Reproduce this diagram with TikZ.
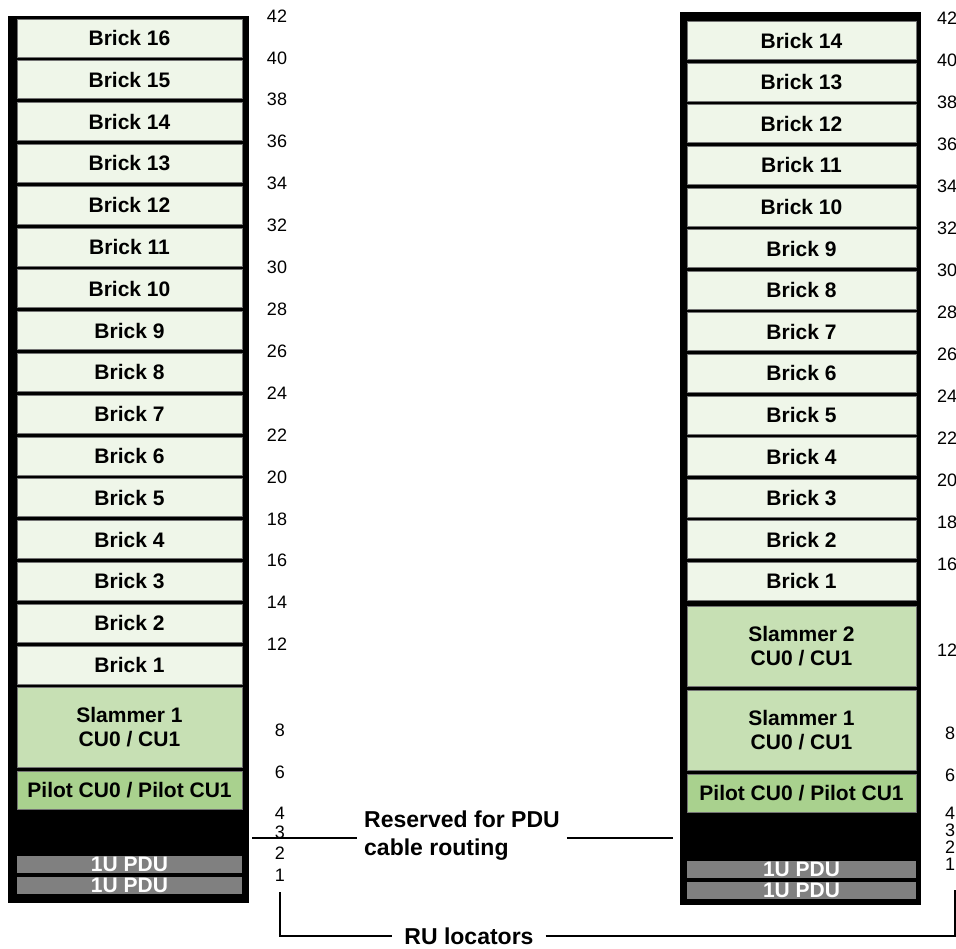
\documentclass[tikz,border=0pt]{standalone}
\usepackage{fontspec}
\setmainfont{Liberation Sans}
\usetikzlibrary{positioning}

\definecolor{brickgreen}{RGB}{239,246,233}
\definecolor{slammergreen}{RGB}{199,224,180}
\definecolor{pilotgreen}{RGB}{169,209,142}
\definecolor{pdugray}{RGB}{128,128,128}

\tikzset{
  unitbox/.style={draw=black!55, line width=0.8pt, inner sep=0pt, align=center,
    font=\bfseries\fontsize{21}{24}\selectfont},
  brick/.style={unitbox, fill=brickgreen, minimum height=38pt},
  slammer/.style={unitbox, fill=slammergreen, minimum height=80pt},
  pilot/.style={unitbox, fill=pilotgreen, minimum height=38pt},
  pdu/.style={unitbox, draw=none, fill=pdugray, text=white, minimum height=17pt},
  ru/.style={inner sep=0pt, font=\fontsize{18}{18}\selectfont},
  callout/.style={font=\bfseries\fontsize{23}{28}\selectfont},
  leader/.style={line width=2.4pt},
}

\begin{document}
\begin{tikzpicture}[x=1pt,y=-1pt]
  \useasboundingbox (0,0) rectangle (956,948);

  % 1. The two rack frames
  \fill[black] (8,16) rectangle (249,903);
  \fill[black] (680,12) rectangle (921,905);

  % 2. Left rack: 16 bricks, one slammer
  \foreach \k in {1,...,16}{
    \pgfmathsetmacro\yc{38+(16-\k)*41.8}
    \node[brick, minimum width=225pt] (lb\k) at (129.5,\yc) {Brick \k};
  }
  \node[slammer, minimum width=225pt] (ls1) at (129.5,727.5) {Slammer 1\\CU0 / CU1};
  \node[pilot, minimum width=225pt] (lpil) at (129.5,790.5) {Pilot CU0 / Pilot CU1};
  \node[pdu, minimum width=225pt] (lpdu2) at (129.5,864.5) {1U PDU};
  \node[pdu, minimum width=225pt] (lpdu1) at (129.5,885.5) {1U PDU};

  % 3. Right rack: 14 bricks, two slammers
  \foreach \k in {1,...,14}{
    \pgfmathsetmacro\yc{40.5+(14-\k)*41.6}
    \node[brick, minimum width=229pt] (rb\k) at (801.5,\yc) {Brick \k};
  }
  \node[slammer, minimum width=229pt] (rs2) at (801.5,646.5) {Slammer 2\\CU0 / CU1};
  \node[slammer, minimum width=229pt] (rs1) at (801.5,730.5) {Slammer 1\\CU0 / CU1};
  \node[pilot, minimum width=229pt] (rpil) at (801.5,793.5) {Pilot CU0 / Pilot CU1};
  \node[pdu, minimum width=229pt] (rpdu2) at (801.5,869.5) {1U PDU};
  \node[pdu, minimum width=229pt] (rpdu1) at (801.5,890.5) {1U PDU};

  % 4. RU numbers beside each rack
  \foreach \n in {42,40,...,12}{
    \pgfmathsetmacro\yc{16+(42-\n)*20.95}
    \node[ru] (lru\n) at (277,\yc) {\n};
  }
  \foreach \n/\yc in {8/730,6/772,4/813,3/832,2/853,1/875}
    \node[ru] (lru\n) at (280,\yc) {\n};
  \foreach \n in {42,40,...,16}{
    \pgfmathsetmacro\yc{18+(42-\n)*21}
    \node[ru] (rru\n) at (947,\yc) {\n};
  }
  \node[ru] (rru12) at (947,650) {12};
  \foreach \n/\yc in {8/733,6/775,4/813,3/830,2/847,1/864}
    \node[ru] (rru\n) at (950,\yc) {\n};

  % 5. Callouts
  \coordinate (lcab) at (252,838);
  \coordinate (rcab) at (673,838);
  \node[callout, align=left, anchor=west, inner xsep=7pt] (resv) at (357,836)
    {Reserved for PDU\\cable routing};
  \draw[leader] (lcab) -- (lcab -| resv.west);
  \draw[leader] (resv.east |- rcab) -- (rcab);

  \coordinate (lloc) at (280,892);
  \coordinate (rloc) at (955,890);
  \node[callout, inner xsep=12pt] (locs) at (469,936) {RU locators};
  \draw[leader] (lloc) |- (locs.west);
  \draw[leader] (locs.east) -| (rloc);
\end{tikzpicture}
\end{document}
